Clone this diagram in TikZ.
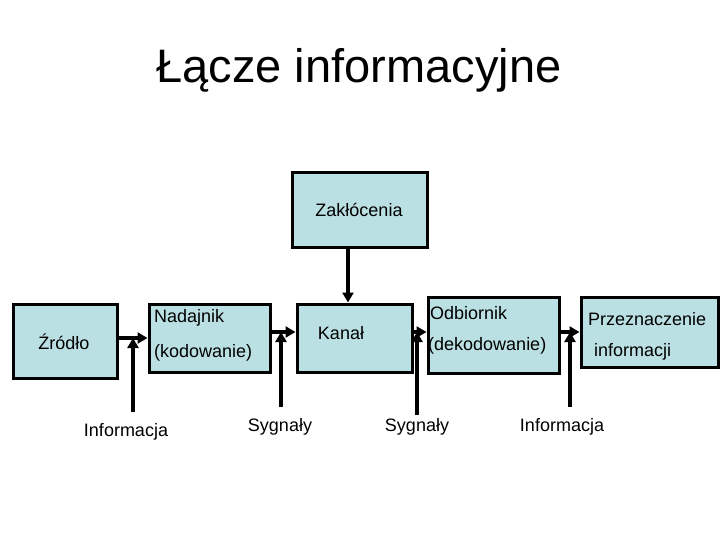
\documentclass[tikz,border=0pt]{standalone}
\usepackage{fontspec}
\setmainfont{Liberation Sans}
\usetikzlibrary{arrows.meta}
\definecolor{boxfill}{RGB}{187,224,227}
\begin{document}
\begin{tikzpicture}[x=1pt,y=-1pt,
  blk/.style={draw=black,line width=3pt,fill=boxfill,rectangle,inner sep=0pt},
  arr/.style={line width=4.5pt,-{Triangle[length=10pt,width=11pt]}},
  sig/.style={line width=4.5pt,-{Triangle[length=10pt,width=11pt]}},
  lab/.style={font=\fontsize{18}{21}\selectfont,inner sep=0pt}]
\useasboundingbox (0,0) rectangle (720,540);
% title
\node[inner sep=0pt,font=\fontsize{47}{56}\selectfont] (title) at (359,70) {Łącze informacyjne};
% boxes
\node[blk,minimum width=104pt,minimum height=74pt] (zr) at (65,341) {};
\node[blk,minimum width=121pt,minimum height=68pt] (nad) at (209.5,338) {};
\node[blk,minimum width=115pt,minimum height=68pt] (kan) at (354.5,338) {};
\node[blk,minimum width=131pt,minimum height=76pt] (odb) at (493.5,335) {};
\node[blk,minimum width=137pt,minimum height=70pt] (prz) at (649.5,332) {};
\node[blk,minimum width=135pt,minimum height=74pt] (zak) at (359.5,210) {};
% box texts
\node[lab] (tzr) at (64,342) {Źródło};
\node[lab,anchor=west] (tnad1) at (154,318) {Nadajnik};
\node[lab,anchor=west] (tnad2) at (154,353) {(kodowanie)};
\node[lab] (tkan) at (341,333) {Kanał};
\node[lab,anchor=west] (todb1) at (430,313) {Odbiornik};
\node[lab,anchor=west] (todb2) at (428,346) {(dekodowanie)};
\node[lab,anchor=west] (tprz1) at (588,319) {Przeznaczenie};
\node[lab,anchor=west] (tprz2) at (594,352) {informacji};
\node[lab] (tzak) at (359,210) {Zakłócenia};
% bottom labels
\node[lab] (l1) at (126,432) {Informacja};
\node[lab] (l2) at (280,427) {Sygnały};
\node[lab] (l3) at (417,427) {Sygnały};
\node[lab] (l4) at (562,427) {Informacja};
% horizontal arrows
\draw[arr] (zr.east |- nad.west) -- (nad.west);
\draw[arr] ([yshift=6pt]nad.east) -- ([yshift=6pt]nad.east -| kan.west);
\draw[arr] ([yshift=6pt]kan.east) -- ([yshift=6pt]kan.east -| odb.west);
\draw[arr] ([yshift=3pt]odb.east) -- ([yshift=3pt]odb.east -| prz.west);
% vertical signal arrows
\coordinate (v1) at (133,412);
\coordinate (v2) at (281,407);
\coordinate (v3) at (417,415);
\coordinate (v4) at (570,407);
\draw[sig] (v1) -- (v1 |- nad.west);
\draw[sig] (v2) -- ([yshift=6pt]v2 |- nad.east);
\draw[sig] (v3) -- ([yshift=6pt]v3 |- kan.east);
\draw[sig] (v4) -- ([yshift=3pt]v4 |- odb.east);
% disturbance
\coordinate (z1) at (348,247);
\draw[arr] (z1) -- (z1 |- kan.north);
\end{tikzpicture}
\end{document}
